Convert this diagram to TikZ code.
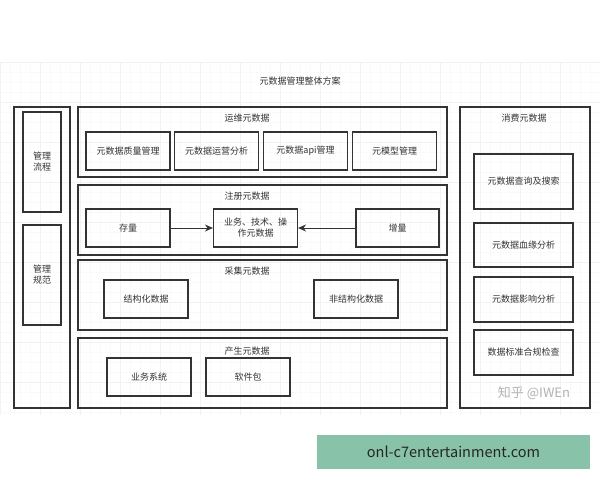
\documentclass[tikz,border=0pt]{standalone}
\usepackage{fontspec}
\setmainfont{Noto Sans CJK SC}
\usetikzlibrary{arrows.meta}
\definecolor{banner}{RGB}{136,194,168}
\definecolor{ink}{RGB}{51,51,51}
\begin{document}
\begin{tikzpicture}[x=1pt,y=-1pt,
  box/.style={draw=ink,line width=1.1pt,rectangle,inner sep=0pt,text=ink,font=\fontsize{9}{11}\selectfont,align=center},
  lbl/.style={text=ink,inner sep=0pt,font=\fontsize{9}{10}\selectfont},
  arr/.style={draw=ink,line width=1pt,-{Stealth[length=8pt,width=7pt]}}]
\useasboundingbox[fill=white] (0,0) rectangle (600,480);
% faint background grid
\foreach \x in {0,10,...,600} \draw[black!2.5,line width=0.4pt] (\x,62) -- (\x,415);
\foreach \y in {62,72,...,412} \draw[black!2.5,line width=0.4pt] (0,\y) -- (600,\y);
\foreach \x in {0,40,...,600} \draw[black!5,line width=0.5pt] (\x,62) -- (\x,415);
\foreach \y in {62,102,...,412} \draw[black!5,line width=0.5pt] (0,\y) -- (600,\y);

\node[lbl] (title) at (300,81) {元数据管理整体方案};

% left column
\node[box,minimum width=56,minimum height=301] (left) at (42,257.5) {};
\node[box,minimum width=38,minimum height=100] (flow) at (42,162) {管理\\流程};
\node[box,minimum width=38,minimum height=100] (norm) at (42,275) {管理\\规范};

% 运维元数据
\node[box,minimum width=369,minimum height=70] (ops) at (262.5,142) {};
\node[lbl] (opsl) at (247,118) {运维元数据};
\node[box,minimum width=84,minimum height=38] (q1) at (128,151) {元数据质量管理};
\node[box,minimum width=84,minimum height=38] (q2) at (216.5,151) {元数据运营分析};
\node[box,minimum width=84,minimum height=38] (q3) at (305.5,151) {元数据api管理};
\node[box,minimum width=84,minimum height=38] (q4) at (394.5,151) {元模型管理};

% 注册元数据
\node[box,minimum width=369,minimum height=70] (reg) at (262.5,220) {};
\node[lbl] (regl) at (247,196) {注册元数据};
\node[box,minimum width=84,minimum height=38] (stock) at (128,228) {存量};
\node[box,minimum width=84,minimum height=38] (meta) at (255.5,228) {业务、技术、操\\作元数据};
\node[box,minimum width=83,minimum height=38] (incr) at (397.5,228) {增量};
\draw[arr] (stock) -- (meta);
\draw[arr] (incr) -- (meta);

% 采集元数据
\node[box,minimum width=369,minimum height=70] (col) at (262.5,295) {};
\node[lbl] (coll) at (247,271) {采集元数据};
\node[box,minimum width=84,minimum height=38] (str) at (146,299) {结构化数据};
\node[box,minimum width=84,minimum height=38] (unstr) at (356,299) {非结构化数据};

% 产生元数据
\node[box,minimum width=369,minimum height=70] (gen) at (262.5,373) {};
\node[lbl] (genl) at (247,351) {产生元数据};
\node[box,minimum width=84,minimum height=38] (bsys) at (149,377) {业务系统};
\node[box,minimum width=84,minimum height=38] (pkg) at (248,377) {软件包};

% 消费元数据
\node[box,minimum width=130,minimum height=301] (cons) at (525,257.5) {};
\node[lbl] (consl) at (524,118) {消费元数据};
\node[box,minimum width=99,minimum height=55] (c1) at (523.5,181.5) {元数据查询及搜索};
\node[box,minimum width=99,minimum height=44] (c2) at (523.5,245) {元数据血缘分析};
\node[box,minimum width=99,minimum height=45] (c3) at (523.5,299.5) {元数据影响分析};
\node[box,minimum width=99,minimum height=45] (c4) at (523.5,352.5) {数据标准合规检查};

\node[text=black!30,inner sep=0pt,font=\fontsize{13}{15}\selectfont] (wm) at (534,393) {知乎 @IWEn};

\node[fill=banner,minimum width=273,minimum height=34,inner sep=0pt,text=black!85,font=\fontsize{14.5}{16}\selectfont] (ban) at (453.5,452) {onl-c7entertainment.com};
\end{tikzpicture}
\end{document}
